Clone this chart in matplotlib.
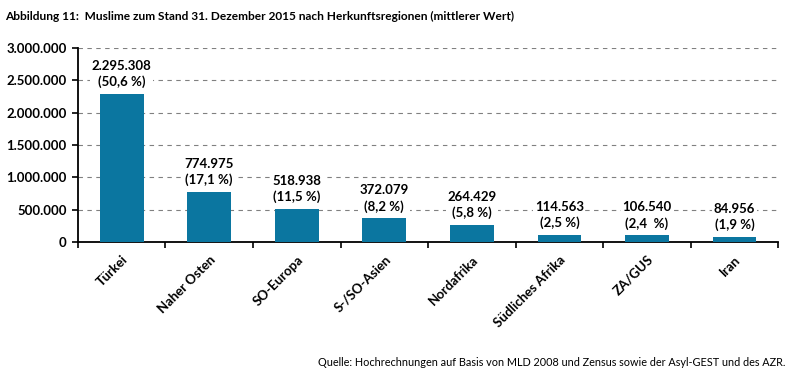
import matplotlib.pyplot as plt

regions = ["Türkei", "Naher Osten", "SO-Europa", "S-/SO-Asien", "Nordafrika",
           "Südliches Afrika", "ZA/GUS", "Iran"]
muslims = [2295308, 774975, 518938, 372079, 264429, 114563, 106540, 84956]
shares = ["50,6 %", "17,1 %", "11,5 %", "8,2 %", "5,8 %", "2,5 %", "2,4  %", "1,9 %"]
yticks = [0, 500000, 1000000, 1500000, 2000000, 2500000, 3000000]

plt.rcParams['font.family'] = ['Lato', 'DejaVu Sans']

fig = plt.figure(figsize=(7.95, 3.76), dpi=100)
ax = fig.add_axes([0.098, 0.356, 0.881, 0.516])

x = list(range(len(regions)))
ax.bar(x, muslims, width=0.5, color="#0b76a0", zorder=3)

def fmt(v):
    return f"{v:,}".replace(",", ".")

for xi, v, s in zip(x, muslims, shares):
    ax.annotate(f"{fmt(v)}\n({s})", (xi, v), xytext=(0, 4), textcoords="offset points",
                ha="center", va="bottom", fontsize=9.5, fontweight="bold",
                linespacing=1.35, zorder=4,
                bbox=dict(facecolor="white", edgecolor="none", pad=1))

ax.set_xlim(-0.5, len(regions) - 0.5)
ax.set_ylim(0, 3000000)
ax.set_yticks(yticks)
ax.set_yticklabels([fmt(t) for t in yticks], fontsize=9.5, fontweight="bold")
ax.set_xticks(x)
ax.set_xticklabels(regions, rotation=45, ha="right", rotation_mode="anchor",
                   fontsize=9.5, fontweight="bold")
ax.tick_params(axis="x", length=0, pad=8)
ax.set_xticks([i + 0.5 for i in range(-1, len(regions))], minor=True)
ax.tick_params(axis="x", which="minor", length=4, width=1.2, direction="out")
ax.tick_params(axis="y", length=4, width=1.2, direction="out", pad=4)

for t in yticks[1:]:
    ax.axhline(t, color="#808080", linestyle=(0, (4, 4)), linewidth=0.8, zorder=1)

for side in ["top", "right"]:
    ax.spines[side].set_visible(False)
for side in ["left", "bottom"]:
    ax.spines[side].set_linewidth(1.3)

fig.text(0.006, 0.955, "Abbildung 11:  Muslime zum Stand 31. Dezember 2015 nach Herkunftsregionen (mittlerer Wert)",
         fontsize=8.6, fontweight="bold", ha="left", va="center")
fig.text(0.988, 0.037, "Quelle: Hochrechnungen auf Basis von MLD 2008 und Zensus sowie der Asyl-GEST und des AZR.",
         fontsize=7.8, ha="right", va="center")

fig.savefig("out.png", dpi=100)
